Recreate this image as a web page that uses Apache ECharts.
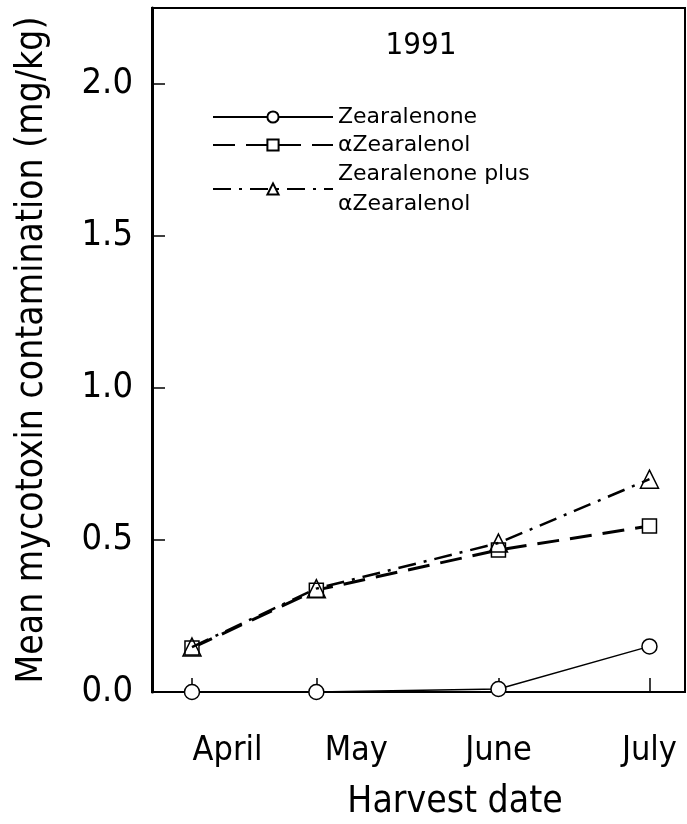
<!DOCTYPE html>
<html>
<head>
<meta charset="utf-8">
<script src="https://cdn.jsdelivr.net/npm/echarts@6/dist/echarts.min.js"></script>
<style>html,body{margin:0;padding:0;background:#fff}#c{width:687px;height:824px}</style>
</head>
<body>
<div id="c"></div>
<script>
// Harvest dates as day-of-year (approximate positions on the time axis)
var harvestDays = [97, 125, 166, 200];
var monthLabels = ['April', 'May', 'June', 'July'];
var monthLabelDays = [105, 134, 166, 200];
var zearalenone = [0.0, 0.0, 0.01, 0.15];
var alphaZearalenol = [0.145, 0.335, 0.467, 0.546];
var zearPlusAlpha = [0.148, 0.34, 0.49, 0.70];
var yTicks = [0, 0.5, 1.0, 1.5, 2.0];

function pairs(xs, ys) { return xs.map(function (x, i) { return [x, ys[i]]; }); }

var FONT = '"DejaVu Sans Condensed", "DejaVu Sans", sans-serif';
var LFONT = '"DejaVu Sans", sans-serif';
var chart = echarts.init(document.getElementById('c'), null, { renderer: 'canvas' });
chart.setOption({
  animation: false,
  backgroundColor: '#fff',
  textStyle: { fontFamily: FONT, color: '#000' },
  title: {
    text: '1991', left: 416, top: 25, textAlign: 'center',
    textStyle: { fontFamily: FONT, fontSize: 31, fontWeight: 'normal', color: '#000' }
  },
  grid: {
    left: 152, right: 2, top: 8, bottom: 132, containLabel: false, outerBoundsMode: 'none',
    show: true, borderColor: '#000', borderWidth: 2, backgroundColor: 'transparent'
  },
  legend: [
    {
      data: ['Zearalenone', 'αZearalenol'],
      orient: 'vertical', left: 207, top: 98, itemWidth: 120, itemHeight: 14, itemGap: 0,
      textStyle: { fontFamily: LFONT, fontSize: 22, lineHeight: 28, color: '#000' }
    },
    {
      data: ['Zearalenone plus\nαZearalenol'],
      orient: 'vertical', left: 207, top: 154, itemWidth: 120, itemHeight: 14,
      textStyle: { fontFamily: LFONT, fontSize: 22, lineHeight: 30, color: '#000' }
    }
  ],
  xAxis: {
    type: 'value', min: 88, max: 208,
    name: 'Harvest date', nameLocation: 'middle', nameGap: 92,
    nameTextStyle: { fontFamily: FONT, fontSize: 37, color: '#000', padding: [0, 0, 0, 73] },
    axisLine: { show: true, onZero: false, lineStyle: { color: '#000', width: 2 } },
    axisTick: { show: true, inside: true, length: 14, customValues: harvestDays, lineStyle: { color: '#000', width: 1.5 } },
    axisLabel: {
      show: true, customValues: monthLabelDays, margin: 42,
      fontFamily: FONT, fontSize: 34, color: '#000',
      formatter: function (v) { var i = monthLabelDays.indexOf(v); return i >= 0 ? monthLabels[i] : ''; }
    },
    splitLine: { show: false }
  },
  yAxis: {
    type: 'value', min: 0, max: 2.25,
    name: 'Mean mycotoxin contamination (mg/kg)', nameLocation: 'middle', nameGap: 101,
    nameTextStyle: { fontFamily: FONT, fontSize: 37, color: '#000' },
    axisLine: { show: true, lineStyle: { color: '#000', width: 3 } },
    axisTick: { show: true, inside: true, length: 13, customValues: yTicks, lineStyle: { color: '#000', width: 1.5 } },
    axisLabel: {
      show: true, customValues: yTicks, margin: 19, fontFamily: FONT, fontSize: 36, color: '#000',
      formatter: function (v) { return v.toFixed(1); }
    },
    splitLine: { show: false }
  },
  series: [
    {
      name: 'Zearalenone', type: 'line', data: pairs(harvestDays, zearalenone),
      symbol: 'circle', symbolSize: 15, showAllSymbol: true,
      lineStyle: { color: '#000', width: 1.5, type: 'solid' },
      itemStyle: { color: '#fff', borderColor: '#000', borderWidth: 1.5 }, z: 3
    },
    {
      name: 'αZearalenol', type: 'line', data: pairs(harvestDays, alphaZearalenol),
      symbol: 'rect', symbolSize: 14,
      lineStyle: { color: '#000', width: 3, type: [22, 11] },
      itemStyle: { color: '#fff', borderColor: '#000', borderWidth: 1.5 }, z: 4
    },
    {
      name: 'Zearalenone plus\nαZearalenol', type: 'line', data: pairs(harvestDays, zearPlusAlpha),
      symbol: 'triangle', symbolSize: 18,
      lineStyle: { color: '#000', width: 2.5, type: [18, 8, 3, 8] },
      itemStyle: { color: 'transparent', borderColor: '#000', borderWidth: 1.5 }, z: 5
    }
  ]
});
</script>
</body>
</html>
